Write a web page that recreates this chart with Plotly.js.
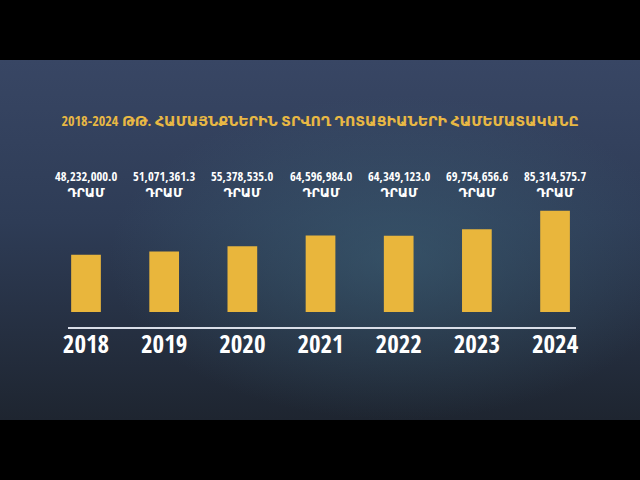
<!DOCTYPE html>
<html><head><meta charset="utf-8">
<script src="https://cdn.plot.ly/plotly-3.0.1.min.js"></script>
<style>html,body{margin:0;padding:0;background:#000;}#chart{width:640px;height:480px;}</style>
</head><body><div id="chart"></div>
<script>
const years = ["2018","2019","2020","2021","2022","2023","2024"];
const amounts = [48232000.0, 51071361.3, 55378535.0, 64596984.0, 64349123.0, 69754656.6, 85314575.7];
const amountLabels = ["48,232,000.0","51,071,361.3","55,378,535.0","64,596,984.0","64,349,123.0","69,754,656.6","85,314,575.7"];
const unitLabel = "ԴՐԱՄ";
const titleText = "2018-2024 ԹԹ. ՀԱՄԱՅՆՔՆԵՐԻՆ ՏՐՎՈՂ ԴՈՏԱՑԻԱՆԵՐԻ ՀԱՄԵՄԱՏԱԿԱՆԸ";

const condensed = "Open Sans Condensed, DejaVu Sans, sans-serif";

const svg = `<svg xmlns="http://www.w3.org/2000/svg" width="640" height="360" viewBox="0 0 640 360">
<defs>
<linearGradient id="g" x1="0" y1="0" x2="0" y2="1">
<stop offset="0" stop-color="#384664"/>
<stop offset="0.45" stop-color="#2e3c56"/>
<stop offset="1" stop-color="#1e2530"/>
</linearGradient>
<radialGradient id="r" cx="0.62" cy="0.55" r="0.45">
<stop offset="0" stop-color="#3d6478" stop-opacity="0.55"/>
<stop offset="1" stop-color="#3d6478" stop-opacity="0"/>
</radialGradient>
</defs>
<rect width="640" height="360" fill="url(#g)"/>
<rect width="640" height="360" fill="url(#r)"/>
</svg>`;
const bgSrc = "data:image/svg+xml;base64," + btoa(svg);

const trace = {
  type: "bar",
  x: years,
  y: amounts,
  marker: {color: "#e9b63c"},
  hoverinfo: "skip"
};

const annotations = years.map((yr, i) => ({
  x: i, xref: "x",
  y: 0.615, yref: "paper", yanchor: "middle",
  text: amountLabels[i] + "<br>" + unitLabel,
  showarrow: false,
  font: {family: condensed, size: 12.5, color: "#ffffff", weight: "bold"}
}));

const layout = {
  width: 640, height: 480,
  margin: {l: 0, r: 0, t: 0, b: 0},
  paper_bgcolor: "#000000",
  plot_bgcolor: "rgba(0,0,0,0)",
  showlegend: false,
  bargap: 0.62,
  title: {
    text: titleText,
    x: 0.5, xanchor: "center",
    y: 0.748, yanchor: "middle",
    font: {family: condensed, size: 14.2, color: "#e8b844", weight: "bold"}
  },
  xaxis: {
    type: "category",
    domain: [0.10625, 0.9],
    range: [-0.2303, 6.268],
    anchor: "free", position: 0.3187,
    showline: true, linecolor: "#d9dee8", linewidth: 1.5,
    showgrid: false, zeroline: false,
    ticks: "", ticklabelstandoff: -6,
    tickfont: {family: condensed, size: 25, color: "#ffffff", weight: "bold"},
    fixedrange: true
  },
  yaxis: {
    domain: [0.35, 0.875],
    range: [0, 212.5e6],
    visible: false,
    showgrid: false, zeroline: false,
    fixedrange: true
  },
  images: [{
    source: bgSrc, xref: "paper", yref: "paper",
    x: 0, y: 0.875, sizex: 1, sizey: 0.75,
    xanchor: "left", yanchor: "top", sizing: "stretch", layer: "below"
  }],
  annotations: annotations
};

Plotly.newPlot("chart", [trace], layout, {displayModeBar: false, staticPlot: true});
</script>
</body></html>
